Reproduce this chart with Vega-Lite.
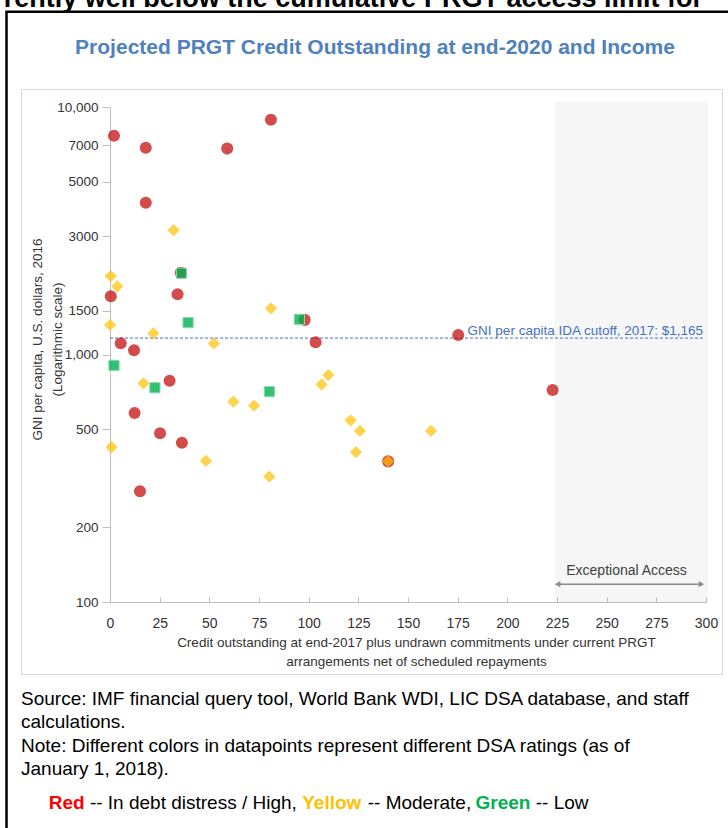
{
  "$schema": "https://vega.github.io/schema/vega-lite/v6.json",
  "width": 596,
  "height": 495,
  "autosize": {"type": "none"},
  "padding": {"left": 110, "top": 107, "right": 22, "bottom": 226},
  "background": "white",
  "config": {"view": {"stroke": null}, "font": "Liberation Sans"},
  "datasets": {
    "countries": [
      {"credit": 2, "gni": 7650, "rating": "High"},
      {"credit": 18, "gni": 6850, "rating": "High"},
      {"credit": 59, "gni": 6790, "rating": "High"},
      {"credit": 81, "gni": 8890, "rating": "High"},
      {"credit": 18, "gni": 4100, "rating": "High"},
      {"credit": 35.6, "gni": 2140, "rating": "High"},
      {"credit": 0.4, "gni": 1720, "rating": "High"},
      {"credit": 34, "gni": 1750, "rating": "High"},
      {"credit": 98, "gni": 1380, "rating": "High"},
      {"credit": 5.4, "gni": 1110, "rating": "High"},
      {"credit": 12.1, "gni": 1040, "rating": "High"},
      {"credit": 103.5, "gni": 1120, "rating": "High"},
      {"credit": 175.3, "gni": 1200, "rating": "High"},
      {"credit": 30, "gni": 783, "rating": "High"},
      {"credit": 12.4, "gni": 580, "rating": "High"},
      {"credit": 25.2, "gni": 481, "rating": "High"},
      {"credit": 36.2, "gni": 440, "rating": "High"},
      {"credit": 15.1, "gni": 280, "rating": "High"},
      {"credit": 140, "gni": 370, "rating": "High"},
      {"credit": 222.8, "gni": 719, "rating": "High"},
      {"credit": 32, "gni": 3180, "rating": "Moderate"},
      {"credit": 0.4, "gni": 2075, "rating": "Moderate"},
      {"credit": 3.7, "gni": 1885, "rating": "Moderate"},
      {"credit": 81, "gni": 1537, "rating": "Moderate"},
      {"credit": 0, "gni": 1316, "rating": "Moderate"},
      {"credit": 21.8, "gni": 1218, "rating": "Moderate"},
      {"credit": 52.3, "gni": 1109, "rating": "Moderate"},
      {"credit": 16.8, "gni": 765, "rating": "Moderate"},
      {"credit": 62.1, "gni": 645, "rating": "Moderate"},
      {"credit": 72.5, "gni": 621, "rating": "Moderate"},
      {"credit": 0.8, "gni": 422, "rating": "Moderate"},
      {"credit": 48.3, "gni": 372, "rating": "Moderate"},
      {"credit": 80.2, "gni": 321, "rating": "Moderate"},
      {"credit": 109.9, "gni": 826, "rating": "Moderate"},
      {"credit": 106.5, "gni": 757, "rating": "Moderate"},
      {"credit": 121.1, "gni": 542, "rating": "Moderate"},
      {"credit": 125.8, "gni": 491, "rating": "Moderate"},
      {"credit": 161.6, "gni": 491, "rating": "Moderate"},
      {"credit": 123.8, "gni": 403, "rating": "Moderate"},
      {"credit": 140, "gni": 370, "rating": "Moderate"},
      {"credit": 36, "gni": 2130, "rating": "Low"},
      {"credit": 39.3, "gni": 1345, "rating": "Low"},
      {"credit": 95.3, "gni": 1387, "rating": "Low"},
      {"credit": 2, "gni": 904, "rating": "Low"},
      {"credit": 22.6, "gni": 734, "rating": "Low"},
      {"credit": 80.2, "gni": 708, "rating": "Low"}
    ],
    "cutoff": [{"credit": 0, "credit_end": 298.5, "gni": 1165, "label": "GNI per capita IDA cutoff, 2017: $1,165"}],
    "exceptional_zone": [{"credit": 224, "credit_end": 301, "gni": 10500, "gni_low": 100}],
    "exceptional_arrow": [{"credit": 225, "credit_end": 298, "gni": 118}],
    "arrow_left": [{"credit": 225.3, "gni": 118}],
    "arrow_right": [{"credit": 297.7, "gni": 118}],
    "exceptional_label": [{"credit": 260, "gni": 129, "label": "Exceptional Access"}]
  },
  "layer": [
    {
      "data": {"values": [{}]},
      "mark": {"type": "rect", "filled": false, "stroke": "#000000", "strokeWidth": 2.5},
      "encoding": {"x": {"value": -103.5}, "x2": {"value": 700}, "y": {"value": -95.2}, "y2": {"value": 800}}
    },
    {
      "data": {"values": [{}]},
      "mark": {"type": "rect", "filled": false, "stroke": "#D9D9D9", "strokeWidth": 1},
      "encoding": {"x": {"value": -88.5}, "x2": {"value": 612.5}, "y": {"value": -17.5}, "y2": {"value": 567.5}}
    },
    {
      "data": {"name": "exceptional_zone"},
      "mark": {"type": "rect", "fill": "#F6F6F6"},
      "encoding": {
        "x": {"field": "credit", "type": "quantitative", "scale": {"domain": [0, 300], "nice": false, "zero": false},
          "axis": {
            "values": [0, 25, 50, 75, 100, 125, 150, 175, 200, 225, 250, 275, 300],
            "grid": false, "zindex": 1,
            "domainColor": "#BFBFBF", "tickColor": "#BFBFBF", "tickSize": -5,
            "labelPadding": 19, "labelFontSize": 14, "labelColor": "#333333",
            "labelFlush": false, "labelOverlap": false,
            "title": ["Credit outstanding at end-2017 plus undrawn commitments under current PRGT", "arrangements net of scheduled repayments"],
            "titleFontSize": 13.5, "titleFontWeight": "normal", "titleColor": "#333333",
            "titleX": 306, "titleY": 44, "titleAlign": "center", "titleBaseline": "alphabetic", "titleLineHeight": 19, "titleAngle": 0
          }},
        "x2": {"field": "credit_end"},
        "y": {"field": "gni", "type": "quantitative", "scale": {"type": "log", "domain": [100, 10000], "nice": false},
          "axis": {
            "values": [100, 200, 500, 1000, 1500, 3000, 5000, 7000, 10000],
            "labelExpr": "datum.value >= 10000 ? '10,000' : (datum.value == 1000 ? '1,000' : format(datum.value, 'd'))",
            "grid": false, "zindex": 0,
            "domainColor": "#BFBFBF", "tickColor": "#BFBFBF", "tickSize": 8,
            "labelPadding": 4, "labelFontSize": 13.5, "labelColor": "#333333", "labelOverlap": false,
            "title": ["GNI per capita, U.S. dollars, 2016", "(Logarithmic scale)"],
            "titleFontSize": 13.5, "titleFontWeight": "normal", "titleColor": "#333333",
            "titleX": -68.3, "titleY": 232, "titleAngle": 270, "titleAlign": "center", "titleBaseline": "alphabetic", "titleLineHeight": 20
          }},
        "y2": {"field": "gni_low"}
      }
    },
    {
      "data": {"name": "cutoff"},
      "mark": {"type": "rule", "stroke": "#4472C4", "strokeWidth": 1, "strokeDash": [3, 2]},
      "encoding": {
        "x": {"field": "credit", "type": "quantitative"},
        "x2": {"field": "credit_end"},
        "y": {"field": "gni", "type": "quantitative"}
      }
    },
    {
      "data": {"name": "cutoff"},
      "mark": {"type": "text", "align": "right", "baseline": "alphabetic", "dy": -3, "fontSize": 13.5, "fill": "#4472C4"},
      "encoding": {
        "x": {"field": "credit_end", "type": "quantitative"},
        "y": {"field": "gni", "type": "quantitative"},
        "text": {"field": "label"}
      }
    },
    {
      "data": {"name": "exceptional_arrow"},
      "mark": {"type": "rule", "stroke": "#8C8C8C", "strokeWidth": 1.5},
      "encoding": {
        "x": {"field": "credit", "type": "quantitative"},
        "x2": {"field": "credit_end"},
        "y": {"field": "gni", "type": "quantitative"}
      }
    },
    {
      "data": {"name": "arrow_left"},
      "mark": {"type": "point", "shape": "triangle-left", "filled": true, "size": 40, "fill": "#8C8C8C", "opacity": 1, "strokeWidth": 0},
      "encoding": {
        "x": {"field": "credit", "type": "quantitative"},
        "y": {"field": "gni", "type": "quantitative"}
      }
    },
    {
      "data": {"name": "arrow_right"},
      "mark": {"type": "point", "shape": "triangle-right", "filled": true, "size": 40, "fill": "#8C8C8C", "opacity": 1, "strokeWidth": 0},
      "encoding": {
        "x": {"field": "credit", "type": "quantitative"},
        "y": {"field": "gni", "type": "quantitative"}
      }
    },
    {
      "data": {"name": "exceptional_label"},
      "mark": {"type": "text", "align": "center", "baseline": "alphabetic", "fontSize": 14, "fill": "#404040"},
      "encoding": {
        "x": {"field": "credit", "type": "quantitative"},
        "y": {"field": "gni", "type": "quantitative"},
        "text": {"field": "label"}
      }
    },
    {
      "data": {"name": "countries"},
      "transform": [{"filter": "datum.rating === 'High'"}],
      "mark": {"type": "point", "shape": "circle", "filled": true, "size": 145, "fill": "#C00000", "fillOpacity": 0.7, "opacity": 1, "strokeWidth": 0},
      "encoding": {
        "x": {"field": "credit", "type": "quantitative"},
        "y": {"field": "gni", "type": "quantitative"}
      }
    },
    {
      "data": {"name": "countries"},
      "transform": [{"filter": "datum.rating === 'Moderate'"}],
      "mark": {"type": "point", "shape": "diamond", "filled": true, "size": 150, "fill": "#FFC000", "fillOpacity": 0.7, "opacity": 1, "strokeWidth": 0},
      "encoding": {
        "x": {"field": "credit", "type": "quantitative"},
        "y": {"field": "gni", "type": "quantitative"}
      }
    },
    {
      "data": {"name": "countries"},
      "transform": [{"filter": "datum.rating === 'Low'"}],
      "mark": {"type": "point", "shape": "square", "filled": true, "size": 105, "fill": "#00B050", "fillOpacity": 0.8, "opacity": 1, "stroke": "#8FDCAE", "strokeWidth": 1},
      "encoding": {
        "x": {"field": "credit", "type": "quantitative"},
        "y": {"field": "gni", "type": "quantitative"}
      }
    },
    {
      "data": {"values": [{}]},
      "mark": {"type": "text", "align": "center", "baseline": "alphabetic", "fontSize": 21, "fontWeight": "bold", "fill": "#4F81BD"},
      "encoding": {"x": {"value": 265}, "y": {"value": -53}, "text": {"value": "Projected PRGT Credit Outstanding at end-2020 and Income"}}
    },
    {
      "data": {"values": [{}]},
      "mark": {"type": "text", "align": "right", "baseline": "alphabetic", "fontSize": 27, "fontWeight": "bold", "fill": "#000000"},
      "encoding": {"x": {"value": 593}, "y": {"value": -100}, "text": {"value": "currently well below the cumulative PRGT access limit for"}}
    },
    {
      "data": {"values": [{}]},
      "mark": {"type": "text", "align": "left", "baseline": "alphabetic", "fontSize": 19, "lineHeight": 23.3, "fill": "#000000"},
      "encoding": {"x": {"value": -89}, "y": {"value": 598}, "text": {"value": ["Source: IMF financial query tool, World Bank WDI, LIC DSA database, and staff", "calculations.", "Note: Different colors in datapoints represent different DSA ratings (as of", "January 1, 2018)."]}}
    },
    {
      "data": {"values": [{}]},
      "mark": {"type": "text", "align": "left", "baseline": "alphabetic", "fontSize": 19, "fontWeight": "bold", "fill": "#FF0000"},
      "encoding": {"x": {"value": -61.3}, "y": {"value": 702}, "text": {"value": "Red"}}
    },
    {
      "data": {"values": [{}]},
      "mark": {"type": "text", "align": "left", "baseline": "alphabetic", "fontSize": 19, "fill": "#000000"},
      "encoding": {"x": {"value": -20.1}, "y": {"value": 702}, "text": {"value": "-- In debt distress / High,"}}
    },
    {
      "data": {"values": [{}]},
      "mark": {"type": "text", "align": "left", "baseline": "alphabetic", "fontSize": 19, "fontWeight": "bold", "fill": "#FFC000"},
      "encoding": {"x": {"value": 192.2}, "y": {"value": 702}, "text": {"value": "Yellow"}}
    },
    {
      "data": {"values": [{}]},
      "mark": {"type": "text", "align": "left", "baseline": "alphabetic", "fontSize": 19, "fill": "#000000"},
      "encoding": {"x": {"value": 257.7}, "y": {"value": 702}, "text": {"value": "-- Moderate,"}}
    },
    {
      "data": {"values": [{}]},
      "mark": {"type": "text", "align": "left", "baseline": "alphabetic", "fontSize": 19, "fontWeight": "bold", "fill": "#00B050"},
      "encoding": {"x": {"value": 365.5}, "y": {"value": 702}, "text": {"value": "Green"}}
    },
    {
      "data": {"values": [{}]},
      "mark": {"type": "text", "align": "left", "baseline": "alphabetic", "fontSize": 19, "fill": "#000000"},
      "encoding": {"x": {"value": 425.7}, "y": {"value": 702}, "text": {"value": "-- Low"}}
    }
  ]
}
